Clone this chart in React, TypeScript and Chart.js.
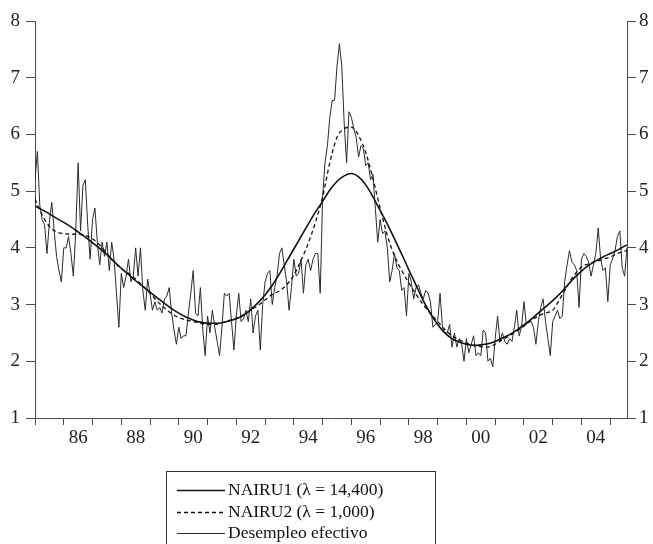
import React, { useEffect, useRef } from 'react';
import { Chart, registerables } from 'chart.js';

Chart.register(...registerables);

// Monthly data, January 1985 (index 0) to August 2005 (index 247)
const START_YEAR = 1985;
const LAST_MONTH = 247;

const desempleo = [
  5.2, 5.7, 4.75, 4.5, 4.4, 3.9, 4.45, 4.8, 4.3, 3.85, 3.6, 3.4,
  4.0, 4.0, 4.2, 3.9, 3.5, 4.3, 5.5, 4.3, 5.1, 5.2, 4.4, 3.8,
  4.5, 4.7, 4.1, 3.7, 4.1, 3.85, 4.1, 3.6, 4.1, 3.8, 3.2, 2.6,
  3.55, 3.3, 3.5, 3.8, 3.4, 3.5, 4.0, 3.5, 4.0, 3.25, 2.9, 3.45,
  3.2, 2.9, 3.05, 2.9, 2.95, 2.85, 3.1, 3.15, 3.3, 2.85, 2.55, 2.3,
  2.6, 2.4, 2.45, 2.45, 2.85, 3.2, 3.6, 2.85, 2.8, 3.3, 2.55, 2.1,
  2.8, 2.5, 2.9, 2.6, 2.35, 2.1, 2.6, 3.2, 3.15, 3.2, 2.7, 2.2,
  2.8, 3.2, 2.7, 2.75, 2.9, 2.7, 3.1, 2.5, 2.8, 2.9, 2.2, 3.0,
  3.4, 3.55, 3.6, 3.0, 3.3, 3.5, 3.9, 4.0, 3.7, 3.4, 2.9, 3.3,
  3.8, 3.5, 3.55, 3.8, 3.2, 3.7, 3.8, 3.6, 3.8, 3.9, 3.9, 3.2,
  4.9, 5.5, 5.8, 6.3, 6.6, 6.6, 7.2, 7.6, 7.2, 6.2, 5.5, 6.4,
  6.3, 6.1, 5.95, 5.6, 5.8, 5.75, 5.45, 5.5, 5.2, 5.3, 4.7, 4.1,
  4.5, 4.25, 4.3, 4.0, 3.4, 3.6, 3.9, 3.65, 3.6, 3.25, 3.3, 2.8,
  3.55, 3.4, 3.1, 3.3, 3.35, 3.2, 3.1, 3.25, 3.2, 3.05, 2.6, 2.65,
  2.7, 3.2, 2.6, 2.5, 2.5, 2.65, 2.25, 2.5, 2.25, 2.4, 2.3, 2.0,
  2.4, 2.15, 2.3, 2.45, 2.1, 2.15, 2.1, 2.55, 2.5, 2.0, 2.05, 1.9,
  2.4, 2.8, 2.35, 2.5, 2.35, 2.3, 2.4, 2.35, 2.6, 2.9, 2.45, 2.6,
  3.05, 2.65, 2.7, 2.7, 2.6, 2.3, 2.7, 2.95, 3.1, 2.7, 2.4, 2.1,
  2.7, 2.8, 2.9, 2.75, 2.8, 3.4, 3.7, 3.95, 3.75, 3.7, 3.6, 2.95,
  3.8, 3.9, 3.85, 3.75, 3.5, 3.7, 3.9, 4.35, 3.8, 3.6, 3.65, 3.05,
  3.7, 3.8, 3.95, 4.2, 4.3, 3.65, 3.5, 4.0,
];

// Trend series read every 3 months (index 0, 3, ..., 246) plus the last month
const nairu1 = [
  4.74, 4.67, 4.60, 4.52, 4.45, 4.37, 4.28, 4.19, 4.09, 3.99, 3.88, 3.76,
  3.64, 3.53, 3.42, 3.32, 3.22, 3.12, 3.02, 2.93, 2.85, 2.78, 2.73, 2.69,
  2.67, 2.67, 2.68, 2.71, 2.75, 2.81, 2.91, 3.03, 3.17, 3.34, 3.54, 3.76,
  3.98, 4.20, 4.42, 4.63, 4.82, 5.02, 5.17, 5.27, 5.31, 5.25, 5.11, 4.90,
  4.66, 4.42, 4.16, 3.89, 3.61, 3.34, 3.07, 2.84, 2.65, 2.50, 2.40, 2.34,
  2.30, 2.28, 2.29, 2.31, 2.35, 2.41, 2.47, 2.55, 2.64, 2.74, 2.85, 2.96,
  3.07, 3.19, 3.33, 3.47, 3.59, 3.69, 3.77, 3.84, 3.90, 3.96, 4.03, 4.05,
];

const nairu2 = [
  4.86, 4.58, 4.38, 4.28, 4.25, 4.24, 4.24, 4.22, 4.16, 4.05, 3.90, 3.75,
  3.63, 3.55, 3.45, 3.33, 3.20, 3.06, 2.94, 2.84, 2.77, 2.73, 2.70, 2.67,
  2.65, 2.65, 2.68, 2.72, 2.76, 2.82, 2.90, 2.98, 3.08, 3.18, 3.24, 3.35,
  3.52, 3.78, 4.08, 4.45, 4.90, 5.50, 5.95, 6.10, 6.13, 5.98, 5.68, 5.22,
  4.70, 4.22, 3.86, 3.60, 3.38, 3.18, 3.00, 2.84, 2.70, 2.56, 2.45, 2.38,
  2.32, 2.28, 2.26, 2.25, 2.30, 2.38, 2.45, 2.53, 2.62, 2.72, 2.80, 2.85,
  2.90, 3.10, 3.32, 3.52, 3.66, 3.72, 3.76, 3.80, 3.84, 3.90, 3.94, 3.96,
];

const trendMonths = nairu1.map((_, i) => Math.min(i * 3, LAST_MONTH));

const yTicks = [1, 2, 3, 4, 5, 6, 7, 8];
const legendLabels = ['NAIRU1 (\u03bb = 14,400)', 'NAIRU2 (\u03bb = 1,000)', 'Desempleo efectivo'];

const FONT = "'Liberation Serif', 'Times New Roman', serif";
const AXIS_COLOR = '#4a4a4a';

const boxLegend = {
  id: 'boxLegend',
  afterDraw(chart: any) {
    const ctx = chart.ctx;
    ctx.save();
    ctx.strokeStyle = '#333';
    ctx.lineWidth = 1;
    ctx.strokeRect(166.5, 471.5, 269, 100);
    legendLabels.forEach((label, i) => {
      const ds = chart.data.datasets[i];
      const y = Math.round(490 + i * 21.5);
      ctx.beginPath();
      ctx.setLineDash(ds.borderDash || []);
      ctx.lineWidth = ds.borderWidth;
      ctx.strokeStyle = ds.borderColor;
      ctx.moveTo(177, y + 0.5);
      ctx.lineTo(225, y + 0.5);
      ctx.stroke();
      ctx.setLineDash([]);
      ctx.fillStyle = '#111';
      ctx.font = `17.5px ${FONT}`;
      ctx.textBaseline = 'middle';
      ctx.textAlign = 'left';
      ctx.fillText(label, 228, y);
    });
    ctx.restore();
  },
};

function yearLabel(v: number): string {
  if (v % 12 !== 6) return '';
  const yi = Math.floor(v / 12);
  if (yi % 2 !== 1) return '';
  return String((START_YEAR + yi) % 100).padStart(2, '0');
}

export default function App() {
  const ref = useRef<HTMLCanvasElement | null>(null);

  useEffect(() => {
    if (!ref.current) return;
    const yAxis = (position: 'left' | 'right', width: number, pad: number) => ({
      type: 'linear' as const,
      position,
      min: 1,
      max: 8,
      afterFit: (s: any) => { s.width = width; },
      afterBuildTicks: (s: any) => { s.ticks = yTicks.map((v) => ({ value: v })); },
      ticks: {
        color: '#222',
        font: { family: FONT, size: 19 },
        padding: pad,
      },
      grid: {
        drawOnChartArea: false,
        drawTicks: true,
        tickLength: 9,
        color: AXIS_COLOR,
        tickColor: AXIS_COLOR,
      },
      border: { display: true, color: AXIS_COLOR, width: 1 },
    });

    const chart = new Chart(ref.current, {
      type: 'line',
      data: {
        datasets: [
          {
            label: legendLabels[0],
            data: nairu1.map((v, i) => ({ x: trendMonths[i], y: v })),
            borderColor: '#111',
            borderWidth: 1.6,
            pointRadius: 0,
            cubicInterpolationMode: 'monotone',
            fill: false,
          },
          {
            label: legendLabels[1],
            data: nairu2.map((v, i) => ({ x: trendMonths[i], y: v })),
            borderColor: '#111',
            borderWidth: 1.3,
            borderDash: [4, 3],
            pointRadius: 0,
            cubicInterpolationMode: 'monotone',
            fill: false,
          },
          {
            label: legendLabels[2],
            data: desempleo.map((v, i) => ({ x: i, y: v })),
            borderColor: '#2a2a2a',
            borderWidth: 1,
            pointRadius: 0,
            tension: 0,
            fill: false,
          },
        ],
      },
      options: {
        responsive: false,
        animation: false,
        devicePixelRatio: 1,
        layout: { padding: { top: 21, left: 0, right: 0, bottom: 0 } },
        plugins: {
          legend: { display: false },
          tooltip: { enabled: false },
        },
        scales: {
          x: {
            type: 'linear',
            min: 0,
            max: LAST_MONTH,
            afterFit: (s: any) => { s.height = 126; },
            ticks: {
              stepSize: 6,
              autoSkip: false,
              includeBounds: false,
              maxRotation: 0,
              color: '#222',
              font: { family: FONT, size: 19 },
              padding: 2,
              callback: (v: any) => yearLabel(Number(v)),
            },
            grid: {
              drawOnChartArea: false,
              drawTicks: true,
              tickLength: 7,
              tickColor: (c: any) => (c.tick && c.tick.value % 12 === 0 ? AXIS_COLOR : 'rgba(0,0,0,0)'),
            },
            border: { display: true, color: AXIS_COLOR, width: 1 },
          },
          y: yAxis('left', 35, 6),
          y2: yAxis('right', 26, 3),
        },
      },
      plugins: [boxLegend],
    });
    return () => chart.destroy();
  }, []);

  return (
    <div style={{ position: 'absolute', left: 0, top: 0, width: 653, height: 544, background: '#fff' }}>
      <canvas ref={ref} width={653} height={544} />
    </div>
  );
}
